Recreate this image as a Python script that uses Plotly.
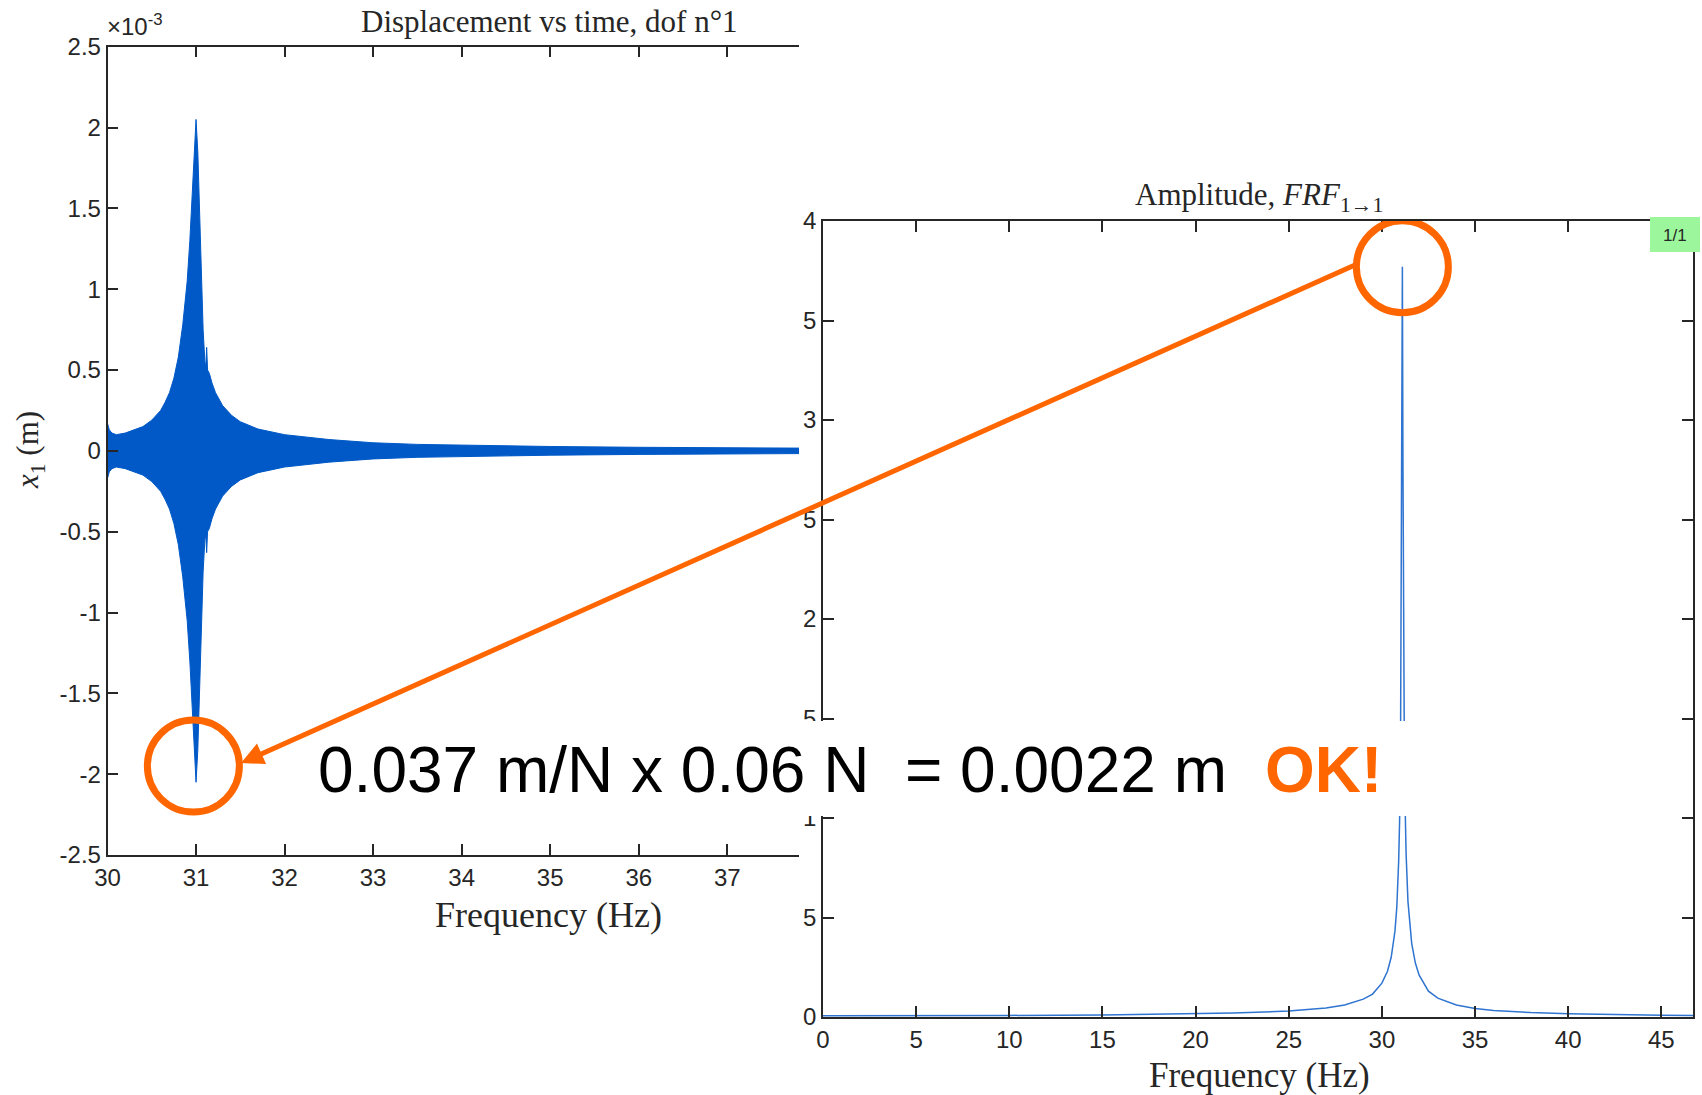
import plotly.graph_objects as go

W, H = 1702, 1095

# ---------------- data: left panel (envelope of displacement, x1e-3 m) ----------------
disp_freq = [30.0, 30.02, 30.05, 30.1, 30.2, 30.3, 30.4, 30.5, 30.6, 30.65, 30.7, 30.75, 30.8,
             30.85, 30.9, 30.93, 30.96, 30.98, 31.0, 31.02, 31.04, 31.06, 31.08, 31.1, 31.11,
             31.12, 31.13, 31.15, 31.18, 31.22, 31.3, 31.4, 31.5, 31.7, 32.0, 32.5, 33.0, 33.5,
             34.0, 35.0, 36.0, 37.0, 37.81]
disp_upper_mm = [0.17, 0.13, 0.11, 0.10, 0.11, 0.13, 0.15, 0.19, 0.25, 0.30, 0.36, 0.45, 0.58,
                 0.78, 1.05, 1.30, 1.65, 1.90, 2.05, 1.85, 1.45, 1.05, 0.75, 0.55, 0.52,
                 0.64, 0.50, 0.48, 0.42, 0.36, 0.28, 0.22, 0.18, 0.135, 0.10, 0.07, 0.05, 0.04,
                 0.035, 0.027, 0.022, 0.019, 0.017]
disp_lower_mm = [-0.17, -0.13, -0.11, -0.10, -0.11, -0.13, -0.15, -0.19, -0.25, -0.30, -0.36, -0.45, -0.58,
                 -0.78, -1.05, -1.30, -1.65, -1.90, -2.05, -1.85, -1.45, -1.05, -0.75, -0.55, -0.52,
                 -0.63, -0.50, -0.48, -0.42, -0.36, -0.28, -0.22, -0.18, -0.135, -0.10, -0.07, -0.05, -0.04,
                 -0.035, -0.027, -0.022, -0.019, -0.017]
disp_upper = [v * 1e-3 for v in disp_upper_mm]
disp_lower = [v * 1e-3 for v in disp_lower_mm]

left_xticks = [30, 31, 32, 33, 34, 35, 36, 37]
left_yticks_mm = [-2.5, -2, -1.5, -1, -0.5, 0, 0.5, 1, 1.5, 2, 2.5]
left_yticktext = ["-2.5", "-2", "-1.5", "-1", "-0.5", "0", "0.5", "1", "1.5", "2", "2.5"]

# ---------------- data: right panel (FRF amplitude, m/N) ----------------
frf_freq = [0, 2, 5, 10, 15, 20, 22, 25, 27, 28, 29, 29.5, 30, 30.3, 30.5, 30.7, 30.8, 30.9,
            30.95, 31.0, 31.03, 31.06, 31.1, 31.13, 31.16, 31.2, 31.25, 31.3, 31.4, 31.6, 31.8,
            32, 32.5, 33, 34, 35, 36, 38, 40, 42, 45, 46.7]
frf_amp = [0.00006, 0.00006, 0.00007, 0.00008, 0.0001, 0.00016, 0.0002, 0.0003, 0.00045,
           0.0006, 0.0009, 0.00115, 0.0017, 0.0023, 0.003, 0.0043, 0.0055, 0.0078,
           0.0098, 0.0135, 0.019, 0.026, 0.0377, 0.028, 0.02, 0.0145, 0.0105, 0.0082, 0.0058,
           0.0037, 0.0027, 0.0021, 0.0013, 0.00095, 0.0006, 0.00043, 0.00033, 0.00022, 0.00016,
           0.00012, 0.00009, 0.00008]
right_xticks = [0, 5, 10, 15, 20, 25, 30, 35, 40, 45]
right_yticks = [0, 0.005, 0.01, 0.015, 0.02, 0.025, 0.03, 0.035, 0.04]
right_yticktext = ["0", "5", "1", "5", "2", "5", "3", "5", "4"]

# annotation anchors (data)
left_mark = (30.97, -1.95e-3)
right_mark = (31.1, 0.0377)

BLUE = "#0059C7"
BLUE2 = "#2F74D0"
ORANGE = "#FF6600"
AX = "#262626"
SANS = "Liberation Sans, Arial, sans-serif"
SERIF = "Liberation Serif, Times New Roman, serif"

def px(x):
    return x / W

def py(y):
    return 1 - y / H

fig = go.Figure()
fig.add_trace(go.Scatter(x=disp_freq, y=disp_lower, mode="lines",
                         line=dict(color=BLUE, width=1), xaxis="x", yaxis="y",
                         hoverinfo="skip", showlegend=False))
fig.add_trace(go.Scatter(x=disp_freq, y=disp_upper, mode="lines", fill="tonexty",
                         fillcolor=BLUE, line=dict(color=BLUE, width=1), xaxis="x", yaxis="y",
                         showlegend=False))
fig.add_trace(go.Scatter(x=frf_freq, y=frf_amp, mode="lines",
                         line=dict(color=BLUE2, width=1.5), xaxis="x2", yaxis="y2",
                         showlegend=False))

axcommon = dict(showgrid=False, zeroline=False, showline=True, linecolor=AX, linewidth=1.5,
                ticks="inside", ticklen=11, tickwidth=1.5, tickcolor=AX, automargin=False,
                tickfont=dict(family=SANS, size=24, color="#262626"))

fig.update_layout(
    template="none",
    width=W, height=H, margin=dict(l=0, r=0, t=0, b=0, pad=0),
    paper_bgcolor="white", plot_bgcolor="white", showlegend=False,
    xaxis=dict(domain=[px(107.5), px(799)], range=[30, 37.81], tickvals=left_xticks,
               mirror="ticks", anchor="y", **axcommon),
    yaxis=dict(domain=[py(855), py(46.7)], range=[-2.5e-3, 2.5e-3],
               tickvals=[v * 1e-3 for v in left_yticks_mm], ticktext=left_yticktext,
               mirror=False, anchor="x", **axcommon),
    xaxis2=dict(domain=[px(823), px(1693)], range=[0, 46.7], tickvals=right_xticks,
                mirror="ticks", anchor="y2", **axcommon),
    yaxis2=dict(domain=[py(1017), py(221)], range=[0, 0.04], tickvals=right_yticks,
                ticktext=right_yticktext, mirror="ticks", anchor="x2", **axcommon),
)

shapes = [
    # white band behind the equation
    dict(type="rect", xref="paper", yref="paper", x0=px(790), x1=px(1688), y0=py(816), y1=py(721),
         fillcolor="white", line=dict(width=0), layer="above"),
    # green page badge
    dict(type="rect", xref="paper", yref="paper", x0=px(1650), x1=px(1700), y0=py(252), y1=py(217),
         fillcolor="#9CF79C", line=dict(width=0), layer="above"),
    # circles
    dict(type="circle", xref="x", yref="y", xsizemode="pixel", ysizemode="pixel",
         xanchor=left_mark[0], yanchor=left_mark[1], x0=-46, x1=46, y0=-46, y1=46,
         line=dict(color=ORANGE, width=7), layer="above"),
    dict(type="circle", xref="x2", yref="y2", xsizemode="pixel", ysizemode="pixel",
         xanchor=right_mark[0], yanchor=right_mark[1], x0=-46, x1=46, y0=-46, y1=46,
         line=dict(color=ORANGE, width=7), layer="above"),
]
fig.update_layout(shapes=shapes)

def txt(text, x, y, size, family, color="#262626", xanchor="center", yanchor="middle", **kw):
    return dict(text=text, x=px(x), y=py(y), xref="paper", yref="paper", showarrow=False,
                xanchor=xanchor, yanchor=yanchor,
                font=dict(family=family, size=size, color=color), **kw)

ann = [
    txt("Displacement vs time, dof n°1", 549, 22, 31, SERIF),
    txt("×10<sup>-3</sup>", 105, 42, 24, SANS, xanchor="left", yanchor="bottom"),
    txt("<i>x</i><sub>1</sub> (m)", 30, 450, 31, SERIF, textangle=-90),
    txt("Frequency (Hz)", 548, 915, 36, SERIF),
    txt("Amplitude, <i>FRF</i><sub>1→1</sub>", 1259, 197, 31, SERIF),
    txt("Frequency (Hz)", 1259, 1075, 35, SERIF),
    txt("1/1", 1675, 235, 17, SANS),
    # arrow
    dict(text="", x=px(241), y=py(763), xref="paper", yref="paper", showarrow=True,
         ax=1116, ay=-499, axref="pixel", ayref="pixel", arrowhead=2, arrowsize=0.9,
         arrowwidth=5, arrowcolor=ORANGE),
    # equation
    txt("0.037 m/N x 0.06 N  = 0.0022 m", 316, 770, 64, SANS, color="black", xanchor="left"),
    txt("<b>OK!</b>", 1263, 770, 64, SANS, color=ORANGE, xanchor="left"),
]
fig.update_layout(annotations=ann)

fig.write_html("out.html")
